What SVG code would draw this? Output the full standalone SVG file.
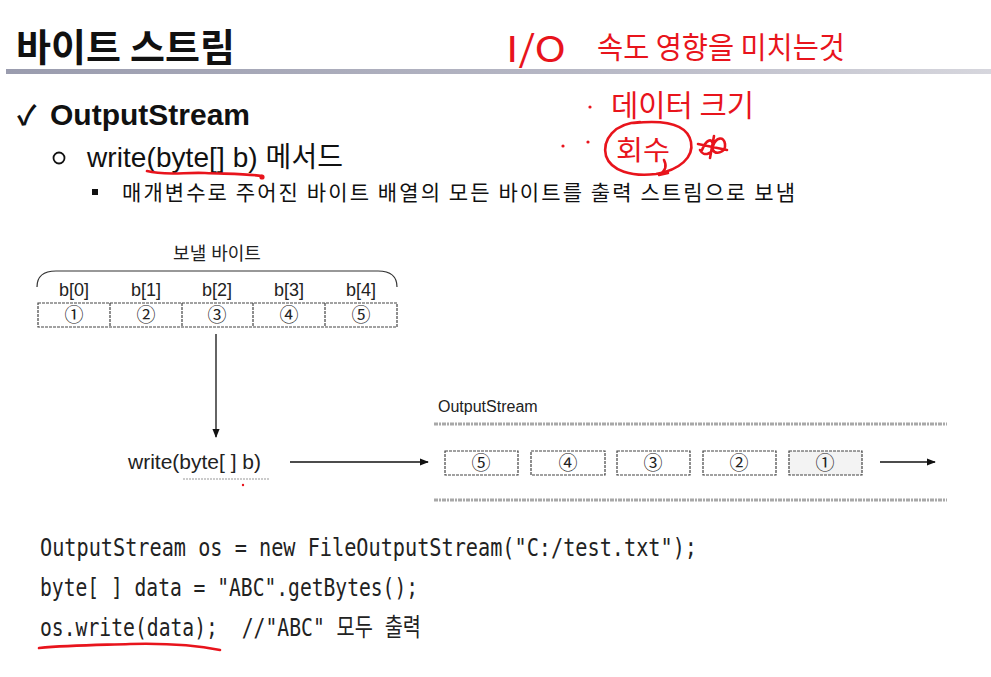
<svg xmlns="http://www.w3.org/2000/svg" width="991" height="677" viewBox="0 0 991 677">
<defs>
  <linearGradient id="bar" x1="0" y1="0" x2="1" y2="0">
    <stop offset="0" stop-color="#9a9cae"/>
    <stop offset="0.6" stop-color="#b8b9c6"/>
    <stop offset="1" stop-color="#d6d6dd"/>
  </linearGradient>
  <marker id="ah" viewBox="0 0 10 10" refX="9" refY="5" markerWidth="9" markerHeight="9" markerUnits="userSpaceOnUse" orient="auto">
    <path d="M0,1 L10,5 L0,9 Z" fill="#111"/>
  </marker>
  <style>
    .ko { font-family: "Noto Sans CJK KR", "Noto Sans", sans-serif; fill: #111; }
    .en { font-family: "Liberation Sans", "Noto Sans CJK KR", sans-serif; fill: #111; }
    .fig { font-family: "Liberation Sans", "Noto Sans CJK KR", sans-serif; fill: #222; }
    .num { font-family: "Noto Sans CJK KR", "DejaVu Sans", sans-serif; fill: #222; font-size: 19px; text-anchor: middle; }
    .code { font-family: "DejaVu Sans Mono", "Liberation Mono", "Noto Sans CJK KR", monospace; fill: #222; font-size: 25px; white-space: pre; }
    .cell { fill: none; stroke: #444; stroke-width: 1.2; stroke-dasharray: 3 1; }
    .box { fill: #fff; stroke: #444; stroke-width: 1.2; stroke-dasharray: 3 1; }
    .rail { stroke: #a8a8a8; stroke-width: 3; stroke-dasharray: 4 1 2 1; }
    .conn { stroke: #111; stroke-width: 1.3; fill: none; }
    .red { fill: none; stroke: #e8141c; stroke-width: 2.6; stroke-linecap: round; stroke-linejoin: round; }
    .redt { font-family: "Noto Sans CJK KR", sans-serif; fill: #e8141c; }
  </style>
</defs>
<rect width="991" height="677" fill="#ffffff"/>

<g id="title">
  <text class="ko" x="16" y="61" font-size="38" font-weight="700" textLength="219">바이트 스트림</text>
  <rect x="6" y="69" width="985" height="5" fill="url(#bar)"/>
</g>

<g id="heading">
  <text class="en" x="17" y="125" font-size="27" font-weight="700">✓</text>
  <text class="en" x="50" y="125" font-size="30" font-weight="700">OutputStream</text>
</g>

<g id="bullet-write">
  <circle cx="59" cy="158" r="5.5" fill="none" stroke="#111" stroke-width="1.8"/>
  <text class="en" x="87" y="167" font-size="28" textLength="256">write(byte[] b) 메서드</text>
</g>

<g id="bullet-desc">
  <rect x="92" y="189" width="6" height="6" fill="#111"/>
  <text class="ko" x="122" y="200" font-size="21" textLength="673">매개변수로 주어진 바이트 배열의 모든 바이트를 출력 스트림으로 보냄</text>
</g>

<g id="annotations">
  <text class="redt" x="506" y="62" font-size="36" textLength="60" lengthAdjust="spacingAndGlyphs">I/O</text>
  <text class="redt" x="597" y="58" font-size="30" textLength="248" lengthAdjust="spacingAndGlyphs">속도 영향을 미치는것</text>
  <circle cx="590" cy="107" r="1.6" fill="#e8141c"/>
  <text class="redt" x="611" y="116" font-size="30" textLength="143" lengthAdjust="spacingAndGlyphs">데이터 크기</text>
  <circle cx="563" cy="146" r="1.6" fill="#e8141c"/>
  <circle cx="588" cy="142" r="1.6" fill="#e8141c"/>
  <text class="redt" x="616" y="160" font-size="27" textLength="54" lengthAdjust="spacingAndGlyphs">회수</text>
  <path class="red" d="M640,122 C614,123 602,140 606,156 C611,171 632,177 656,174 C680,170 694,157 691,142 C688,127 671,119 634,123 M664,160 C667,166 666,170 659,175 L668,173"/>
  <path class="red" d="M702,150 C706,140 712,137 713,145 C714,153 704,158 700,150 M713,146 C716,137 724,136 725,144 C726,152 716,156 712,149 M698,144 L727,150 M714,136 L710,158"/>
  <path class="red" d="M147,171 C165,176 185,172 205,173 C230,174 250,174 262,176"/>
  <circle cx="262" cy="177" r="2.6" fill="#e8141c"/>
  <path class="red" d="M39,648 C70,645 100,645 130,644 C170,643 200,646 220,650"/>
  <circle cx="243" cy="485" r="1.2" fill="#e8141c"/>
</g>

<g id="byte-array">
  <text class="fig" x="217" y="260" font-size="18" text-anchor="middle">보낼 바이트</text>
  <path d="M37,287 C37,277 43,271 56,271 L378,271 C391,271 397,277 397,287" fill="none" stroke="#333" stroke-width="1.2"/>
  <text class="fig" x="74" y="296" font-size="18" text-anchor="middle">b[0]</text>
  <text class="fig" x="146" y="296" font-size="18" text-anchor="middle">b[1]</text>
  <text class="fig" x="217" y="296" font-size="18" text-anchor="middle">b[2]</text>
  <text class="fig" x="289" y="296" font-size="18" text-anchor="middle">b[3]</text>
  <text class="fig" x="361" y="296" font-size="18" text-anchor="middle">b[4]</text>
  <rect class="cell" x="38" y="303" width="359" height="24"/>
  <line class="cell" x1="110" y1="303" x2="110" y2="327"/>
  <line class="cell" x1="182" y1="303" x2="182" y2="327"/>
  <line class="cell" x1="253" y1="303" x2="253" y2="327"/>
  <line class="cell" x1="325" y1="303" x2="325" y2="327"/>
  <text class="num" x="74" y="322">①</text>
  <text class="num" x="146" y="322">②</text>
  <text class="num" x="217" y="322">③</text>
  <text class="num" x="289" y="322">④</text>
  <text class="num" x="361" y="322">⑤</text>
</g>

<g id="write-call">
  <text class="fig" x="128" y="469" font-size="21">write(byte[ ] b)</text>
  <line x1="183" y1="479" x2="270" y2="479" stroke="#bbb" stroke-width="1.5" stroke-dasharray="2 1"/>
</g>

<g id="output-stream">
  <text class="fig" x="438" y="412" font-size="16">OutputStream</text>
  <line class="rail" x1="434" y1="424" x2="947" y2="424"/>
  <line class="rail" x1="434" y1="500" x2="947" y2="500"/>
  <rect class="box" x="445" y="451" width="73" height="24"/>
  <rect class="box" x="531" y="451" width="74" height="24"/>
  <rect class="box" x="617" y="451" width="73" height="24"/>
  <rect class="box" x="703" y="451" width="73" height="24"/>
  <rect class="box" x="789" y="451" width="73" height="24" style="fill:#f3f3f3"/>
  <text class="num" x="481" y="470">⑤</text>
  <text class="num" x="568" y="470">④</text>
  <text class="num" x="653" y="470">③</text>
  <text class="num" x="739" y="470">②</text>
  <text class="num" x="825" y="470">①</text>
</g>

<g id="connectors">
  <line class="conn" x1="216" y1="334" x2="216" y2="437" marker-end="url(#ah)"/>
  <line class="conn" x1="290" y1="462" x2="428" y2="462" marker-end="url(#ah)"/>
  <line class="conn" x1="880" y1="462" x2="935" y2="462" marker-end="url(#ah)"/>
</g>

<g id="code">
  <text class="code" x="40" y="556" textLength="657" lengthAdjust="spacingAndGlyphs">OutputStream os = new FileOutputStream("C:/test.txt");</text>
  <text class="code" x="40" y="596" textLength="378" lengthAdjust="spacingAndGlyphs">byte[ ] data = "ABC".getBytes();</text>
  <text class="code" x="40" y="636" textLength="381" lengthAdjust="spacingAndGlyphs">os.write(data); &#160;//"ABC" 모두 출력</text>
</g>
</svg>
